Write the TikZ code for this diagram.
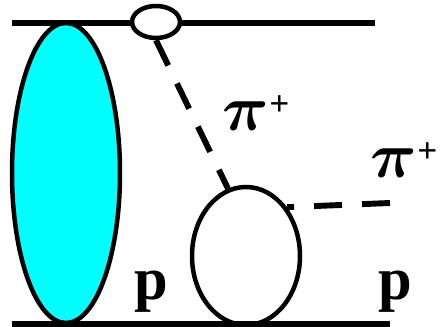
\RequirePackage{fix-cm}
\documentclass[tikz,border=0pt]{standalone}
\usepackage{fontspec}
\usepackage{bm}
\setmainfont{Liberation Serif}
\usetikzlibrary{positioning, shapes.geometric}
\definecolor{aqua}{RGB}{0,255,255}

\newcommand{\pip}{{\fontsize{46}{46}\selectfont$\bm{\pi}$}\raisebox{11pt}{\fontsize{25}{25}\selectfont +}}

\begin{document}
\begin{tikzpicture}[
blob/.style={ellipse, draw, line width=3.2pt, inner sep=0pt},
leg/.style={line width=4.3pt},
pion/.style={line width=4.2pt, dash pattern=on 0.7cm off 0.5cm},
lbl/.style={inner sep=0pt, font=\fontsize{43}{43}\selectfont\bfseries}
]
\useasboundingbox (0,0) rectangle (11,8.175);

\coordinate (tl) at (0.3,7.6);
\coordinate (tr) at (9.375,7.6);
\coordinate (bl) at (0.3,0.075);
\coordinate (br) at (9.75,0.075);

\draw[leg] (tl) -- (tr);
\draw[leg] (bl) -- (br);

\node[blob, fill=aqua, minimum width=2.7cm, minimum height=7.5cm] (N) at (1.65,3.85) {};
\node[blob, fill=white, minimum width=1.2cm, minimum height=0.8cm] (V) at (3.9,7.625) {};
\node[blob, minimum width=2.7cm, minimum height=3.45cm] (X) at (6.15,1.775) {};

\coordinate (out) at (9.75,3.1);

\draw[pion] (V.south) -- (X.105);
\draw[pion] (out) -- (X.50);

\node[lbl] (pi1) at (6.4,5.35) {\pip};
\node[lbl] (pi2) at (10.1,4.175) {\pip};
\node[lbl] (p1) at (3.78,0.875) {p};
\node[lbl] (p2) at (9.88,0.875) {p};

\end{tikzpicture}
\end{document}
